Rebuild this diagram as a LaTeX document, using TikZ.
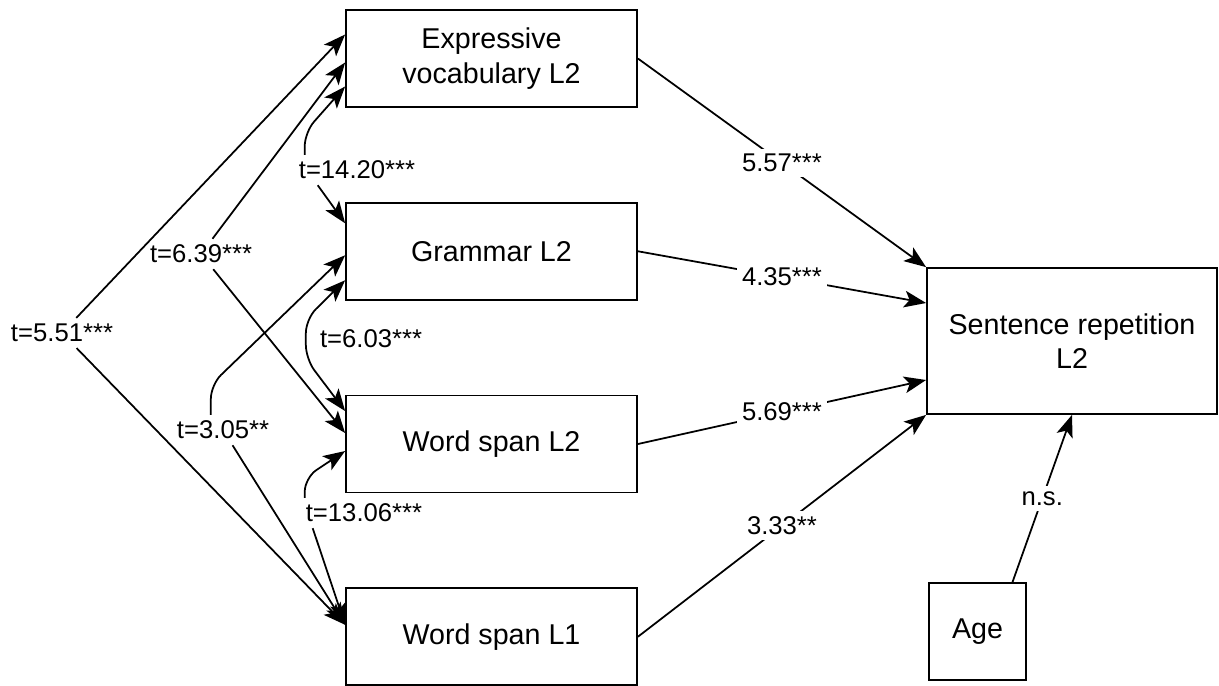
\documentclass[tikz,border=0pt]{standalone}
\usepackage{fontspec}
\setmainfont{Liberation Sans}
\usetikzlibrary{arrows.meta, positioning}

\begin{document}
\begin{tikzpicture}[
    >={Stealth[length=12.5pt, width=9.5pt, inset=3pt]},
    line width=1pt,
    node distance=1.88cm,
    var/.style={rectangle, draw, minimum width=5.82cm, minimum height=1.94cm, align=center, font=\fontsize{16.3}{19.5}\selectfont},
    coef/.style={inner sep=3pt, font=\fontsize{14.6}{17}\selectfont}
]

\useasboundingbox (0,0) rectangle (24.38,-13.7);

% predictors
\node[var] (ev) at (9.83,-1.17) {Expressive\\vocabulary L2};
\node[var, below=of ev] (gr) {Grammar L2};
\node[var, below=of gr] (ws2) {Word span L2};
\node[var, below=of ws2] (ws1) {Word span L1};

% outcome and age
\node[var, minimum width=5.8cm, minimum height=2.92cm] (sr) at (21.44,-6.82) {Sentence repetition\\L2};
\node[var, minimum width=1.94cm] (age) at (19.55,-12.63) {Age};

% t-values
\node[coef] (l1420) at (7.14,-3.40) {t=14.20***};
\node[coef] (l639) at (4.02,-5.08) {t=6.39***};
\node[coef] (l551) at (1.24,-6.66) {t=5.51***};
\node[coef] (l603) at (7.42,-6.78) {t=6.03***};
\node[coef] (l305) at (4.46,-8.60) {t=3.05**};
\node[coef] (l1306) at (7.28,-10.26) {t=13.06***};

% predictors -> sentence repetition
\draw[->] (ev.east) -- node[coef, fill=white] {5.57***} (sr.north west);
\draw[->] (gr.east) -- node[coef, fill=white] {4.35***} ([yshift=0.76cm]sr.west);
\draw[->] (ws2.east) -- node[coef, fill=white] {5.69***} ([yshift=-0.78cm]sr.west);
\draw[->] (ws1.east) -- node[coef, fill=white] {3.33**} (sr.south west);

% age -> sentence repetition
\draw[->] ([xshift=0.7cm]age.north) -- node[coef, fill=white] {n.s.} (sr.south);

% ev <-> gr
\draw[->, rounded corners=8pt] ([xshift=0.24cm]l1420.north west) -- ++(0,0.45) -- ([yshift=-0.56cm]ev.west);
\draw[->] ([xshift=0.5cm]l1420.south west) -- ([yshift=0.56cm]gr.west);

% ev <-> ws2
\draw[->] (l639) -- ([yshift=-0.08cm]ev.west);
\draw[->] (l639) -- ([yshift=0.22cm]ws2.west);

% ev <-> ws1
\draw[->] (l551) -- ([yshift=0.48cm]ev.west);
\draw[->] (l551) -- ([yshift=0.24cm]ws1.west);

% gr <-> ws2
\draw[<->, rounded corners=8pt] ([yshift=-0.58cm]gr.west) -- ([xshift=-0.16cm, yshift=0.4cm]l603.west) -- ([xshift=-0.16cm, yshift=-0.4cm]l603.west) -- ([yshift=0.66cm]ws2.west);

% gr <-> ws1
\draw[->, rounded corners=8pt] ([xshift=0.8cm]l305.north west) -- ++(0,0.6) -- ([yshift=-0.08cm]gr.west);
\draw[->] (l305) -- ([yshift=0.24cm]ws1.west);

% ws2 <-> ws1
\draw[->, rounded corners=8pt] ([xshift=0.1cm]l1306.north west) -- ++(0,0.4) -- ([yshift=-0.14cm]ws2.west);
\draw[->] ([xshift=0.26cm]l1306.south west) -- ([yshift=0.24cm]ws1.west);

\end{tikzpicture}
\end{document}
